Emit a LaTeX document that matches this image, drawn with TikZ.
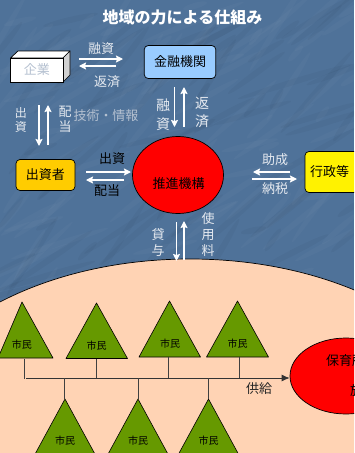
\documentclass[tikz,border=0pt]{standalone}
\usepackage{fontspec}
\setmainfont{Noto Sans CJK JP}
\usetikzlibrary{arrows.meta,shapes.geometric}
\definecolor{bgblue}{HTML}{4F7299}
\definecolor{peach}{HTML}{FFD3B4}
\definecolor{leaf}{HTML}{669900}
\definecolor{pale}{HTML}{E6EAF0}
\definecolor{mute}{HTML}{B4C0D0}
\tikzset{
  wa/.style={draw=white,line width=1.3pt,-{Stealth[length=7pt,width=7pt,inset=1pt]}},
  lbl/.style={inner sep=0,font=\fontsize{13}{13}\selectfont,text=pale},
  dlbl/.style={inner sep=0,font=\fontsize{13}{13}\selectfont,text=black},
  stack/.style={lbl,align=center,font=\fontsize{13}{16}\selectfont},
  stackbig/.style={lbl,align=center,font=\fontsize{14}{18.5}\selectfont},
  rbox/.style={draw=black,line width=.7pt,rounded corners=4pt,inner sep=0,font=\fontsize{13}{13}\selectfont},
  shi/.style={inner sep=0,font=\fontsize{10}{10}\selectfont,text=black},
  tri/.style={draw=black,line width=.6pt,fill=leaf,line join=round},
  stem/.style={draw=black!75,line width=.8pt}
}
\begin{document}
\begin{tikzpicture}[x=1pt,y=-1pt]
\useasboundingbox (0,0) rectangle (354,453);
\begin{scope}
\clip (0,0) rectangle (354,453);
\fill[bgblue] (0,0) rectangle (354,453);
% faint mottling of the backdrop
\pgfmathsetseed{7}
\foreach \i in {1,...,170}{
  \pgfmathsetmacro{\px}{rnd*354}
  \pgfmathsetmacro{\py}{rnd*300}
  \pgfmathsetmacro{\pr}{rnd*50+10}
  \pgfmathsetmacro{\pa}{rnd*50+10}
  \pgfmathsetmacro{\pk}{rnd}
  \ifdim\pk pt<0.5pt
    \fill[white,opacity=.025,rotate around={\pa:(\px,\py)}] (\px,\py) ellipse [x radius=\pr,y radius=3];
  \else
    \fill[black,opacity=.03,rotate around={\pa:(\px,\py)}] (\px,\py) ellipse [x radius=\pr,y radius=3];
  \fi
}
% big area
\path[fill=peach,draw=black,line width=.7pt] (190,449) ellipse [x radius=300,y radius=190];
% triangles
\draw[tri] (22,302) -- (53,358) -- (-2,358) -- cycle;
\draw[tri] (96.5,303) -- (127.5,358.5) -- (66,358.5) -- cycle;
\draw[tri] (169.5,301) -- (200.5,357) -- (139,357) -- cycle;
\draw[tri] (237.5,301) -- (268.5,357) -- (206.5,357) -- cycle;
\draw[tri] (65,399) -- (96,456) -- (34,456) -- cycle;
\draw[tri] (138,399) -- (169,456) -- (107,456) -- cycle;
\draw[tri] (208.5,399) -- (239.5,456) -- (177.5,456) -- cycle;
\node[shi] (s1) at (22,345) {市民};
\node[shi] (s2) at (96.5,345.5) {市民};
\node[shi] (s3) at (170,343.5) {市民};
\node[shi] (s4) at (237.5,343.5) {市民};
\node[shi] (s5) at (65,441) {市民};
\node[shi] (s6) at (138,441) {市民};
\node[shi] (s7) at (208.5,441) {市民};
% red provider
\node[ellipse,draw=black,line width=.7pt,fill=red,minimum width=112pt,minimum height=76pt,inner sep=0] (hoiku) at (346,376) {};
\node[inner sep=0,font=\fontsize{13}{13}\selectfont,anchor=west] (hoikut) at (326,361) {保育所};
\node[inner sep=0,font=\fontsize{13}{13}\selectfont,anchor=west] (hoikub) at (350,391) {施};
% supply line
\coordinate (L0) at (26,378);
\draw[draw=black!80,line width=.8pt,-{Latex[length=8pt,width=7pt]}] (L0) -- (hoiku.west |- 0,378);
\draw[stem] (24,358.5) -- (24,378.5);
\draw[stem] (96,358.5) -- (96,378);
\draw[stem] (168.5,357) -- (168.5,378);
\draw[stem] (239,357) -- (239,378);
\draw[stem] (64.5,378) -- (64.5,399);
\draw[stem] (138,378) -- (138,399);
\draw[stem] (208.5,378) -- (208.5,399);
\node[inner sep=0,font=\fontsize{13}{13}\selectfont,text=black!85] (kyu) at (259,389) {供給};
% cuboid
\draw[fill=white,draw=black,line width=.7pt,line join=round] (10.5,58) -- (18,51) -- (70,51) -- (63,58) -- cycle;
\draw[fill=black!18,draw=black,line width=.7pt,line join=round] (63,58) -- (70,51) -- (70,75) -- (63,82) -- cycle;
\node[draw=black,line width=.7pt,fill=white,minimum width=52.5pt,minimum height=24pt,inner sep=0,text=mute,font=\fontsize{13}{13}\selectfont] (kigyo) at (36.75,70) {企業};
% boxes
\node[rbox,fill={rgb,255:red,153;green,204;blue,255},minimum width=71.5pt,minimum height=33pt] (kin) at (180,62) {金融機関};
\node[rbox,fill={rgb,255:red,255;green,204;blue,0},minimum width=59pt,minimum height=31pt] (shu) at (45.5,175) {出資者};
\node[rbox,fill=yellow,minimum width=70pt,minimum height=41pt,text width=60pt,align=left] (gyo) at (340,172) {行政等};
\node[ellipse,draw=black,line width=.7pt,fill=red,minimum width=91pt,minimum height=77pt,inner sep=0] (sui) at (178,175) {};
\node[inner sep=0,font=\fontsize{13}{13}\selectfont] (suit) at (178.5,184) {推進機構};
% title
\node[inner sep=0,text=white,font=\bfseries\fontsize{16}{16}\selectfont] (title) at (182.5,17) {地域の力による仕組み};
% labels
\node[lbl] (a1) at (101,49) {融資};
\node[lbl] (a2) at (107,82) {返済};
\node[lbl,align=center,font=\fontsize{12}{14}\selectfont] (a3) at (21,120) {出\\資};
\node[lbl,align=center,font=\fontsize{13}{15}\selectfont] (a4) at (65,119.5) {配\\当};
\node[lbl,text=mute] (tech) at (106,116) {技術・情報};
\node[stackbig] (a5) at (163,114.5) {融\\資};
\node[stackbig] (a6) at (202,112.5) {返\\済};
\node[dlbl] (a7) at (112,159) {出資};
\node[dlbl] (a8) at (107,191) {配当};
\node[lbl] (a9) at (275,160) {助成};
\node[lbl] (a10) at (275,189) {納税};
\node[stack] (a11) at (158,243) {貸\\与};
\node[stack] (a12) at (208,235) {使\\用\\料};
% arrows
\coordinate (p1) at (79,59); \coordinate (p2) at (123,59);
\coordinate (p3) at (116,66); \coordinate (p4) at (79,66);
\draw[wa] (p1) -- (p2); \draw[wa] (p3) -- (p4);
\coordinate (p5) at (39,105); \coordinate (p6) at (39,146);
\coordinate (p7) at (48,145); \coordinate (p8) at (48,105);
\draw[wa] (p5) -- (p6); \draw[wa] (p7) -- (p8);
\coordinate (p9) at (174.5,87); \coordinate (p10) at (174.5,127);
\coordinate (p11) at (184,127); \coordinate (p12) at (184,87);
\draw[wa] (p9) -- (p10); \draw[wa] (p11) -- (p12);
\coordinate (p13) at (86,172); \coordinate (p14) at (131,172);
\coordinate (p15) at (124,180); \coordinate (p16) at (86,180);
\draw[wa] (p13) -- (p14); \draw[wa] (p15) -- (p16);
\coordinate (p17) at (290,172); \coordinate (p18) at (253,172);
\coordinate (p19) at (252,179); \coordinate (p20) at (297,179);
\draw[wa] (p17) -- (p18); \draw[wa] (p19) -- (p20);
\coordinate (p21) at (176.5,222); \coordinate (p22) at (176.5,261);
\coordinate (p23) at (184,260); \coordinate (p24) at (184,221);
\draw[wa] (p21) -- (p22); \draw[wa] (p23) -- (p24);
\end{scope}
\end{tikzpicture}
\end{document}
